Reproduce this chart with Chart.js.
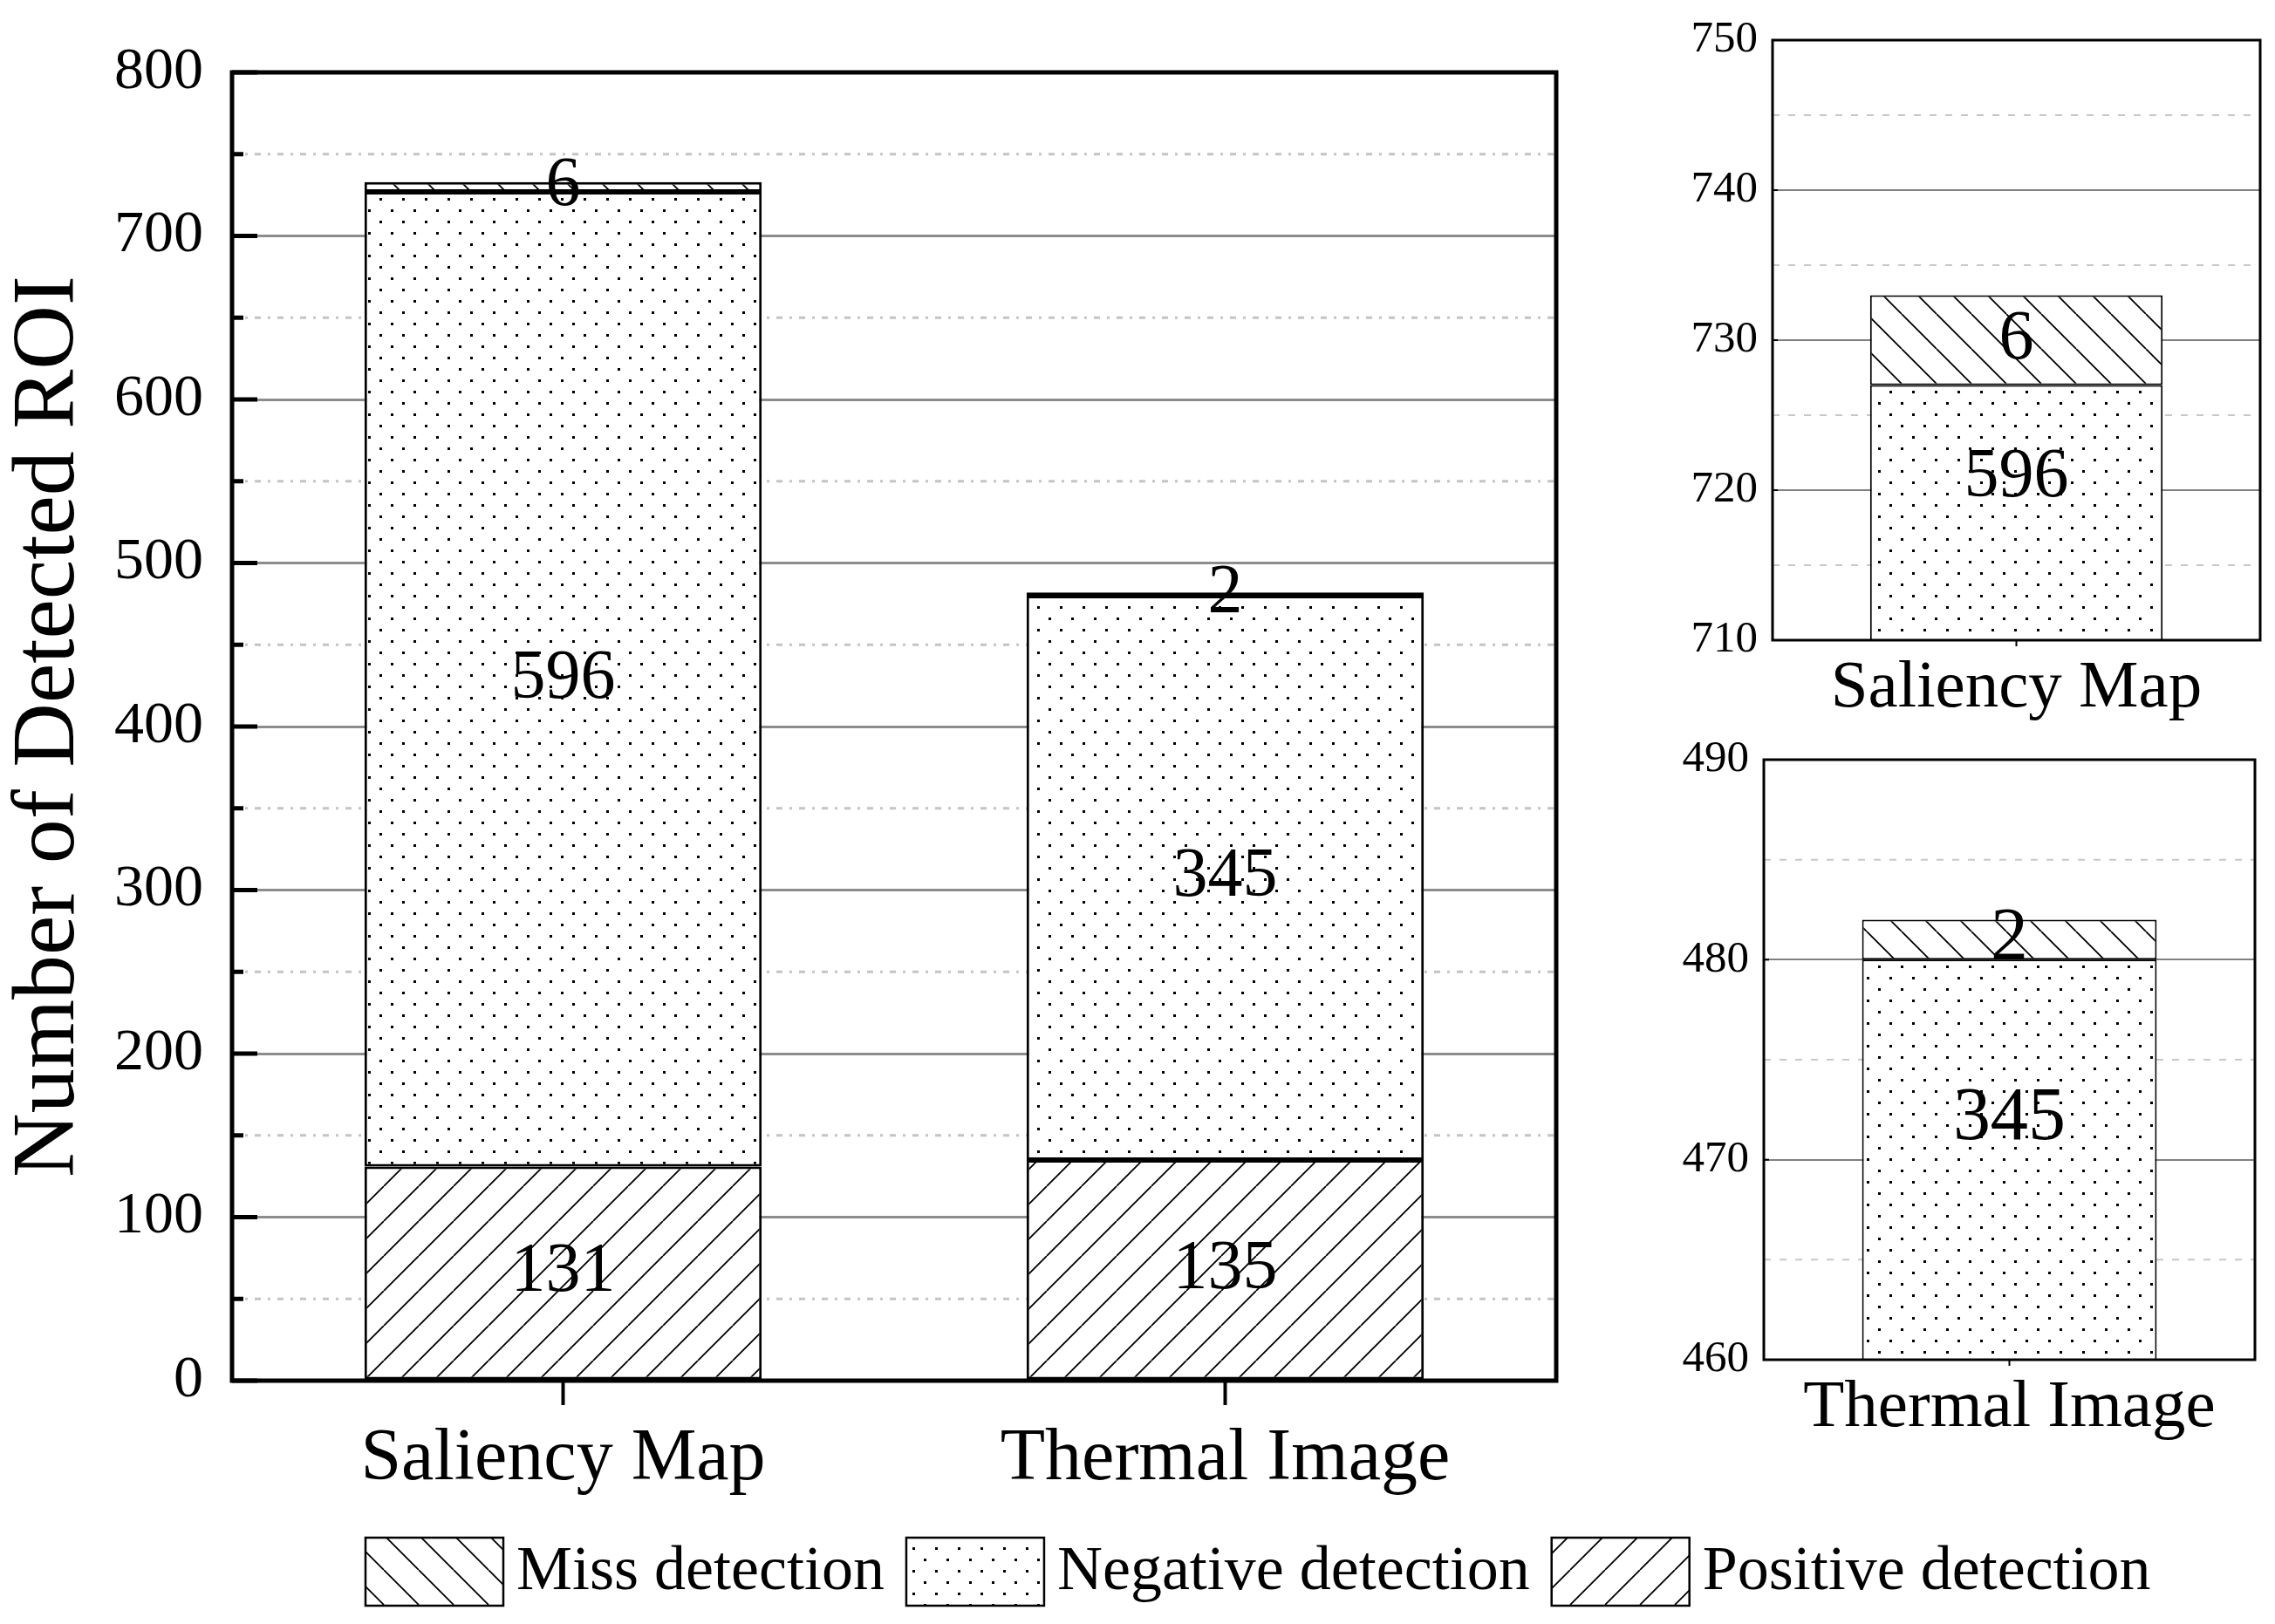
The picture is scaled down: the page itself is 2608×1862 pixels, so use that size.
<!DOCTYPE html>
<html>
<head>
<meta charset="utf-8">
<title>Number of Detected ROI</title>
<script src="https://cdn.jsdelivr.net/npm/chart.js@4.4.1/dist/chart.umd.min.js"></script>
<style>
  html, body { margin: 0; padding: 0; background: #fff; overflow: hidden; }
  #wrap { position: relative; width: 2608px; height: 1862px; }
  canvas { position: absolute; }
  #main { left: 0; top: 0; }
  #zoomSaliency { left: 1900px; top: 0; }
  #zoomThermal { left: 1900px; top: 828px; }
</style>
</head>
<body>
<div id="wrap">
  <canvas id="main" width="2608" height="1862"></canvas>
  <canvas id="zoomSaliency" width="708" height="840"></canvas>
  <canvas id="zoomThermal" width="708" height="872"></canvas>
</div>
<script>
const FONT = "'Liberation Serif', 'Times New Roman', serif";

// data
const categories = ['Saliency Map', 'Thermal Image'];
const positive = [131, 135];
const negative = [596, 345];
const miss = [6, 2];
const seriesNames = ['Positive detection', 'Negative detection', 'Miss detection'];
const legendOrder = ['Miss detection', 'Negative detection', 'Positive detection'];

// axes
const mainRange = [0, 800];
const mainStep = 100;
const zoomRanges = [[710, 750], [460, 490]];
const zoomStep = 10;

Chart.defaults.font.family = FONT;
Chart.defaults.color = '#000';

function makePattern(kind) {
    const c = document.createElement('canvas');
    const size = kind === 'dots' ? 26 : 40;
    c.width = c.height = size;
    const g = c.getContext('2d');
    g.fillStyle = '#fff';
    g.fillRect(0, 0, size, size);
    g.fillStyle = '#000';
    g.strokeStyle = '#000';
    g.lineWidth = 1.8;
    if (kind === 'dots') {
        g.fillRect(6, 6, 3, 3);
        g.fillRect(19, 19, 3, 3);
    } else {
        g.beginPath();
        for (const o of [-size, 0, size]) {
            if (kind === 'slash') { g.moveTo(o, size); g.lineTo(o + size, 0); }
            else { g.moveTo(o, 0); g.lineTo(o + size, size); }
        }
        g.stroke();
    }
    return g.createPattern(c, 'repeat');
}

const fills = {
    'Positive detection': makePattern('slash'),
    'Negative detection': makePattern('dots'),
    'Miss detection': makePattern('backslash')
};

function buildData(idx) {
    const values = [positive, negative, miss];
    return {
        labels: idx.map(i => categories[i]),
        datasets: seriesNames.map((name, k) => ({
            label: name,
            data: idx.map(i => values[k][i]),
            backgroundColor: fills[name]
        }))
    };
}

// minor dashed grid, inward ticks, frame and value labels
const decor = {
    id: 'decor',
    beforeDatasetsDraw(chart, args, o) {
        const {ctx, chartArea: a} = chart;
        const y = chart.scales.y;
        ctx.save();
        ctx.strokeStyle = o.minorColor;
        ctx.lineWidth = o.minorWidth;
        ctx.setLineDash(o.minorDash);
        for (let v = y.min + o.step / 2; v < y.max; v += o.step) {
            const py = y.getPixelForValue(v);
            ctx.beginPath();
            ctx.moveTo(a.left, py);
            ctx.lineTo(a.right, py);
            ctx.stroke();
        }
        ctx.restore();
    },
    afterDatasetsDraw(chart, args, o) {
        const {ctx, chartArea: a} = chart;
        const y = chart.scales.y;
        ctx.save();
        ctx.font = o.labelSize + 'px ' + FONT;
        ctx.fillStyle = '#000';
        ctx.textAlign = 'center';
        ctx.textBaseline = 'middle';
        chart.data.datasets.forEach((ds, i) => {
            chart.getDatasetMeta(i).data.forEach((bar, j) => {
                const top = Math.max(Math.min(bar.y, bar.base), a.top);
                const bottom = Math.min(Math.max(bar.y, bar.base), a.bottom);
                if (bottom - top < 1) return;
                let cy = (top + bottom) / 2;
                if (Math.max(bar.y, bar.base) > a.bottom + 1) cy -= o.clipLift;
                ctx.fillText(String(ds.data[j]), bar.x, cy);
            });
        });

        ctx.strokeStyle = '#000';
        ctx.lineWidth = o.tickWidth;
        for (let v = y.min; v <= y.max; v += o.step / 2) {
            const major = (v - y.min) % o.step === 0;
            const len = major ? o.majorTick : o.minorTick;
            if (!len) continue;
            const py = y.getPixelForValue(v);
            ctx.beginPath();
            ctx.moveTo(a.left, py);
            ctx.lineTo(a.left + len, py);
            ctx.stroke();
        }

        ctx.lineWidth = o.frameWidth;
        ctx.strokeRect(a.left, a.top, a.right - a.left, a.bottom - a.top);
        ctx.restore();
    }
};

const bottomLegend = {
    id: 'bottomLegend',
    afterDraw(chart, args, o) {
        const {ctx} = chart;
        ctx.save();
        ctx.font = o.fontSize + 'px ' + FONT;
        ctx.textBaseline = 'middle';
        ctx.textAlign = 'left';
        let x = o.left;
        legendOrder.forEach(name => {
            const ds = chart.data.datasets.find(d => d.label === name);
            ctx.fillStyle = ds.backgroundColor;
            ctx.fillRect(x, o.top, o.boxWidth, o.boxHeight);
            ctx.lineWidth = 2.5;
            ctx.strokeStyle = '#000';
            ctx.strokeRect(x, o.top, o.boxWidth, o.boxHeight);
            x += o.boxWidth + o.textGap;
            ctx.fillStyle = '#000';
            ctx.fillText(name, x, o.top + o.boxHeight / 2 + 1);
            x += ctx.measureText(name).width + o.itemGap;
        });
        ctx.restore();
    }
};

function barOptions(cfg) {
    return {
        responsive: false,
        animation: false,
        devicePixelRatio: 1,
        layout: {padding: cfg.padding},
        datasets: {
            bar: {
                barPercentage: 0.6,
                categoryPercentage: 1,
                borderColor: '#000',
                borderWidth: cfg.borderWidth,
                borderSkipped: false,
                clip: 0
            }
        },
        plugins: {
            legend: {display: false},
            tooltip: {enabled: false},
            decor: cfg.decor,
            bottomLegend: cfg.legend || false
        },
        scales: {
            x: {
                stacked: true,
                border: {display: false},
                grid: {offset: false, drawOnChartArea: false, tickLength: cfg.xTick, tickWidth: cfg.xTickWidth, tickColor: '#000'},
                ticks: {padding: cfg.xPad, maxRotation: 0, autoSkip: false, font: {size: cfg.xFont, lineHeight: 1}},
                afterFit: s => { s.height = cfg.xHeight; }
            },
            y: {
                stacked: true,
                min: cfg.range[0],
                max: cfg.range[1],
                border: {display: false},
                grid: {color: cfg.gridColor, lineWidth: cfg.gridWidth, drawTicks: false},
                ticks: {stepSize: cfg.step, padding: cfg.yPad, font: {size: cfg.yFont, lineHeight: 1}},
                title: cfg.title || {display: false},
                afterFit: s => { s.width = cfg.yWidth; }
            }
        }
    };
}

new Chart(document.getElementById('main'), {
    type: 'bar',
    data: buildData([0, 1]),
    options: barOptions({
        padding: {top: 83, right: 824, bottom: 139, left: 0},
        borderWidth: 3,
        range: mainRange,
        step: mainStep,
        xTick: 28, xTickWidth: 4, xPad: 21, xFont: 84, xHeight: 140,
        yPad: 33, yFont: 68, yWidth: 266,
        gridColor: '#8c8c8c', gridWidth: 3,
        title: {
            display: true,
            text: 'Number of Detected ROI',
            font: {size: 102, lineHeight: 1},
            padding: {top: 6, bottom: 0}
        },
        decor: {
            step: mainStep, minorColor: '#c4c4c4', minorWidth: 3, minorDash: [7, 8, 3, 8],
            labelSize: 80, clipLift: 0,
            majorTick: 29, minorTick: 13, tickWidth: 5, frameWidth: 5
        },
        legend: {left: 419, top: 1763, boxWidth: 158, boxHeight: 78, textGap: 15, itemGap: 25, fontSize: 72}
    }),
    plugins: [decor, bottomLegend]
});

const zoomLayouts = [
    {id: 'zoomSaliency', padding: {top: 46, right: 17, bottom: 6, left: 0}, yWidth: 132, labelSize: 80, lift: 40},
    {id: 'zoomThermal', padding: {top: 43, right: 23, bottom: 41, left: 0}, yWidth: 122, labelSize: 86, lift: 46}
];

zoomLayouts.forEach((z, i) => {
    new Chart(document.getElementById(z.id), {
        type: 'bar',
        data: buildData([i]),
        options: barOptions({
            padding: z.padding,
            borderWidth: 2,
            range: zoomRanges[i],
            step: zoomStep,
            xTick: 7, xTickWidth: 2, xPad: 10, xFont: 77, xHeight: 100,
            yPad: 17, yFont: 51, yWidth: z.yWidth,
            gridColor: '#808080', gridWidth: 2,
            decor: {
                step: zoomStep, minorColor: '#c8c8c8', minorWidth: 2, minorDash: [8, 10],
                labelSize: z.labelSize, clipLift: z.lift,
                majorTick: 6, minorTick: 0, tickWidth: 2, frameWidth: 3
            }
        }),
        plugins: [decor]
    });
});
</script>
</body>
</html>
